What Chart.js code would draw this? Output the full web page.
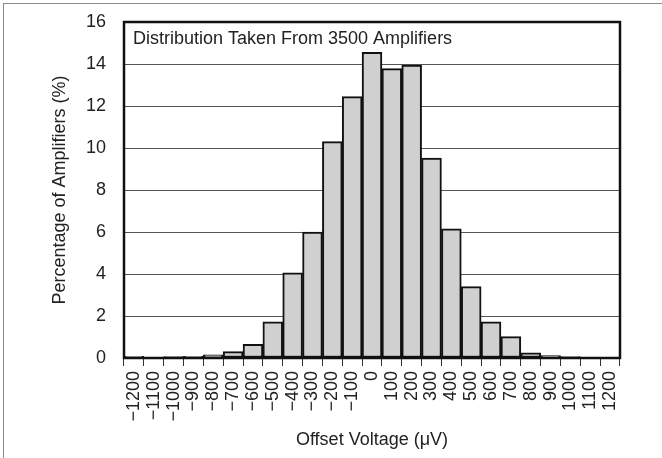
<!DOCTYPE html>
<html>
<head>
<meta charset="utf-8">
<title>Offset Voltage Distribution</title>
<script src="https://cdn.jsdelivr.net/npm/chart.js@4.4.1/dist/chart.umd.min.js"></script>
<style>
  html, body { margin: 0; padding: 0; background: #fff; }
  canvas { display: block; }
</style>
</head>
<body>
<canvas id="offsetChart" width="662" height="458"></canvas>
<script>
// Offset voltage bins (uV), one bar per bin
const offsets = [-1200, -1100, -1000, -900, -800, -700, -600, -500, -400, -300, -200, -100,
                 0, 100, 200, 300, 400, 500, 600, 700, 800, 900, 1000, 1100, 1200];
// Percentage of amplifiers in each bin
const percents = [0.08, 0.0, 0.07, 0.08, 0.15, 0.3, 0.65, 1.72, 4.05, 6.0, 10.3, 12.45,
                  14.55, 13.78, 13.95, 9.52, 6.15, 3.4, 1.72, 1.02, 0.25, 0.12, 0.07, 0.0, 0.0];
const yTicks = [0, 2, 4, 6, 8, 10, 12, 14, 16];
const note = 'Distribution Taken From 3500 Amplifiers';

const labels = offsets.map(v => (v < 0 ? '\u2212' + Math.abs(v) : String(v)));
const font = { family: "'Liberation Sans', Arial, Helvetica, sans-serif", size: 18 };
const ink = '#222';

// outer frame, plot box and the note inside the plot
const framePlugin = {
    id: 'frame',
    beforeDraw(chart) {
        const ctx = chart.ctx;
        ctx.save();
        ctx.strokeStyle = '#8a8a8a';
        ctx.lineWidth = 1;
        ctx.strokeRect(3.5, 3.5, 700, 500);
        ctx.restore();
    },
    afterDatasetsDraw(chart) {
        const { ctx, chartArea: a } = chart;
        ctx.save();
        ctx.strokeStyle = '#111';
        ctx.lineWidth = 2.5;
        ctx.strokeRect(a.left, a.top, a.right - a.left, a.bottom - a.top);
        ctx.fillStyle = ink;
        ctx.font = font.size + 'px ' + font.family;
        ctx.textBaseline = 'alphabetic';
        ctx.fillText(note, a.left + 9, a.top + 22);
        ctx.restore();
    }
};

new Chart(document.getElementById('offsetChart'), {
    type: 'bar',
    data: {
        labels: labels,
        datasets: [{
            data: percents,
            backgroundColor: '#d0d0d0',
            borderColor: '#111',
            borderWidth: 2,
            borderSkipped: false,
            categoryPercentage: 1.0,
            barPercentage: 1.0
        }]
    },
    options: {
        responsive: false,
        animation: false,
        layout: { padding: { top: 22, right: 42, bottom: 0, left: 0 } },
        plugins: { legend: { display: false }, tooltip: { enabled: false } },
        scales: {
            x: {
                offset: true,
                afterFit(scale) { scale.height = 100; },
                grid: {
                    offset: true,
                    drawOnChartArea: false,
                    drawTicks: true,
                    tickLength: 8,
                    color: '#333',
                    lineWidth: 1
                },
                border: { display: true, color: '#111', width: 2 },
                ticks: {
                    autoSkip: false,
                    minRotation: 90,
                    maxRotation: 90,
                    padding: 5,
                    color: ink,
                    font: font
                },
                title: {
                    display: true,
                    text: 'Offset Voltage (\u03bcV)',
                    color: ink,
                    font: font,
                    padding: { top: 0, bottom: 7 }
                }
            },
            y: {
                min: 0,
                max: 16,
                afterFit(scale) {
                    scale.width = 124;
                    scale.paddingTop = 0;
                    scale.paddingBottom = 0;
                },
                afterBuildTicks(scale) { scale.ticks = yTicks.map(v => ({ value: v })); },
                grid: { color: '#555', lineWidth: 1, drawTicks: false },
                border: { display: true, color: '#111', width: 2 },
                ticks: { padding: 18, color: ink, font: font },
                title: {
                    display: true,
                    text: 'Percentage of Amplifiers (%)',
                    color: ink,
                    font: font,
                    padding: { top: 49, bottom: 0 }
                }
            }
        }
    },
    plugins: [framePlugin]
});
</script>
</body>
</html>
